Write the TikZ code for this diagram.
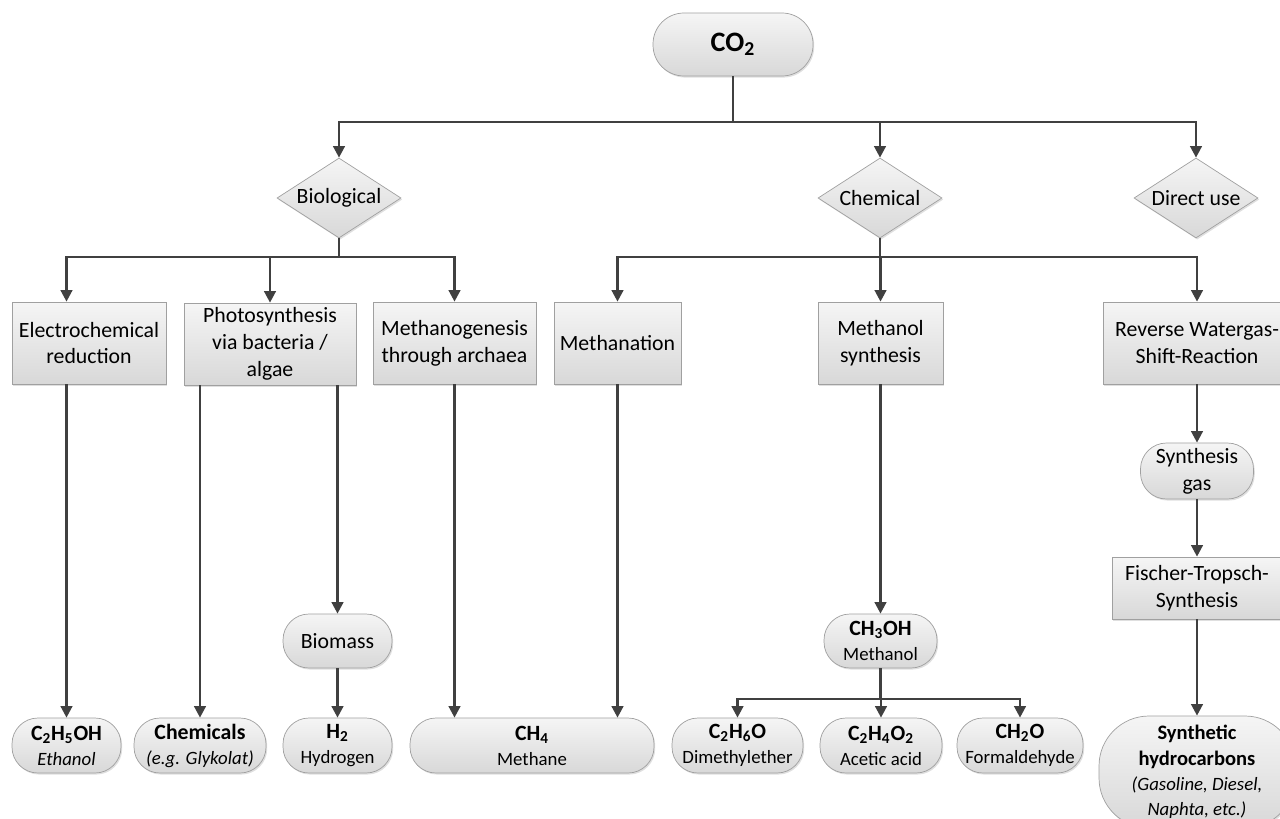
\documentclass[tikz,border=0pt]{standalone}
\usepackage{fontspec}
\setmainfont{Carlito}
\usetikzlibrary{arrows.meta,shapes.geometric,shadows}
\definecolor{lineclr}{HTML}{404040}
\definecolor{edgeclr}{HTML}{A0A0A0}
\definecolor{topclr}{HTML}{F5F5F5}
\definecolor{botclr}{HTML}{D8D8D8}
\newcommand{\frm}[1]{{\fontsize{12.4}{14.2}\selectfont\bfseries #1}}
\tikzset{
    wh/.style 2 args={minimum width=#1*0.02cm, minimum height=#2*0.02cm},
    box/.style={draw=edgeclr, top color=topclr, bottom color=botclr, align=center,
      inner sep=0pt, font=\fontsize{12.4}{15.2}\selectfont,
      drop shadow={shadow xshift=0.7pt, shadow yshift=-0.9pt, opacity=0.25}},
    pill/.style={box, rounded corners=0.52cm, font=\fontsize{10.7}{14.2}\selectfont},
    choice/.style={box, diamond, aspect=1.55, wh={124}{80}},
    link/.style={draw=lineclr, line width=0.05cm},
    arr/.style={link, -{Triangle[length=0.23cm, width=0.23cm]}}
}

\begin{document}
\begin{tikzpicture}[x=0.02cm, y=-0.02cm]
    \useasboundingbox (0,0) rectangle (1280,818);
    % Source
    \node[pill, wh={160}{63}, rounded corners=0.62cm,
      font=\fontsize{16}{19}\selectfont\bfseries] (co2) at (733,44.5) {CO\textsubscript{2}};
    % Kinds of use
    \node[choice] (bio)    at (339,198)  {Biological};
    \node[choice] (chem)   at (880,198)  {Chemical};
    \node[choice] (direct) at (1196,198) {Direct use};
    % Processes
    \node[box, wh={154}{82}] (elec)    at (89,343)     {Electrochemical\\reduction};
    \node[box, wh={172}{82}] (photo)   at (270,344)    {Photosynthesis\\via bacteria /\\algae};
    \node[box, wh={163}{82}] (methano) at (454.5,343)  {Methanogenesis\\through archaea};
    \node[box, wh={127}{82}] (methan)  at (617.5,343)  {Methanation};
    \node[box, wh={125}{82}] (msynth)  at (880.5,343)  {Methanol\\synthesis};
    \node[box, wh={188}{82}] (rwgs)    at (1197,343)   {Reverse Watergas-\\Shift-Reaction};
    \node[pill, wh={113}{56}, font=\fontsize{12.4}{15.2}\selectfont] (sgas) at (1197,471) {Synthesis\\gas};
    \node[box, wh={170}{62}] (ft)      at (1197,588)   {Fischer-Tropsch-\\Synthesis};
    % Intermediates
    \node[pill, wh={109}{54}, font=\fontsize{12.4}{15.2}\selectfont] (biomass) at (337.5,641) {Biomass};
    \node[pill, wh={113}{54}] (meoh) at (880.5,641) {\frm{CH\textsubscript{3}OH}\\Methanol};
    % Products
    \node[pill, wh={109}{55}] (ethanol)   at (66.5,745.5) {\frm{C\textsubscript{2}H\textsubscript{5}OH}\\\textit{Ethanol}};
    \node[pill, wh={132}{55}] (chemicals) at (200,745.5)  {\frm{Chemicals}\\\textit{(e.g. Glykolat)}};
    \node[pill, wh={109}{55}] (h2)        at (337.5,745.5) {\frm{H\textsubscript{2}}\\Hydrogen};
    \node[pill, wh={244}{55}] (ch4)       at (532,745.5)  {\frm{CH\textsubscript{4}}\\Methane};
    \node[pill, wh={131}{55}] (dme)       at (737.5,745.5) {\frm{C\textsubscript{2}H\textsubscript{6}O}\\Dimethylether};
    \node[pill, wh={122}{55}] (acetic)    at (881,745.5)  {\frm{C\textsubscript{2}H\textsubscript{4}O\textsubscript{2}}\\Acetic acid};
    \node[pill, wh={126}{55}] (formal)    at (1020,745.5) {\frm{CH\textsubscript{2}O}\\Formaldehyde};
    \node[pill, wh={196}{112}, rounded corners=1cm, font=\fontsize{10.7}{14.4}\selectfont] (synhc) at (1197,772)
      {{\fontsize{11.7}{14.4}\selectfont\bfseries Synthetic}\\{\fontsize{11.7}{14.4}\selectfont\bfseries hydrocarbons}\\\textit{(Gasoline, Diesel,}\\\textit{Naphta, etc.)}};
    % Trunk from the source
    \coordinate (trunk) at (733,122);
    \draw[link] (co2) -- (trunk);
    \draw[arr] (trunk) -| (bio);
    \draw[arr] (trunk) -| (chem);
    \draw[arr] (trunk) -| (direct);
    % Biological branch
    \coordinate (biobus) at (339,257);
    \draw[link] (bio) -- (biobus);
    \draw[arr] (biobus) -| (elec.north -| ethanol);
    \draw[arr] (biobus) -| (photo);
    \draw[arr] (biobus) -| (methano);
    % Chemical branch
    \coordinate (chembus) at (880,257);
    \draw[link] (chem) -- (chembus);
    \draw[arr] (chembus) -| (methan);
    \draw[arr] (chembus) -| (msynth);
    \draw[arr] (chembus) -| (rwgs);
    % Down to the products
    \draw[arr] (elec.south -| ethanol) -- (ethanol);
    \draw[arr] (photo.south -| chemicals) -- (chemicals);
    \draw[arr] (photo.south -| biomass) -- (biomass);
    \draw[arr] (biomass) -- (h2);
    \draw[arr] (methano) -- (methano |- ch4.north);
    \draw[arr] (methan) -- (methan |- ch4.north);
    \draw[arr] (msynth) -- (meoh);
    \coordinate (mbus) at (880.5,699);
    \draw[link] (meoh) -- (mbus);
    \draw[arr] (mbus) -| (dme);
    \draw[arr] (mbus) -| (acetic);
    \draw[arr] (mbus) -| (formal);
    \draw[arr] (rwgs) -- (sgas);
    \draw[arr] (sgas) -- (ft);
    \draw[arr] (ft) -- (synhc);
\end{tikzpicture}
\end{document}
